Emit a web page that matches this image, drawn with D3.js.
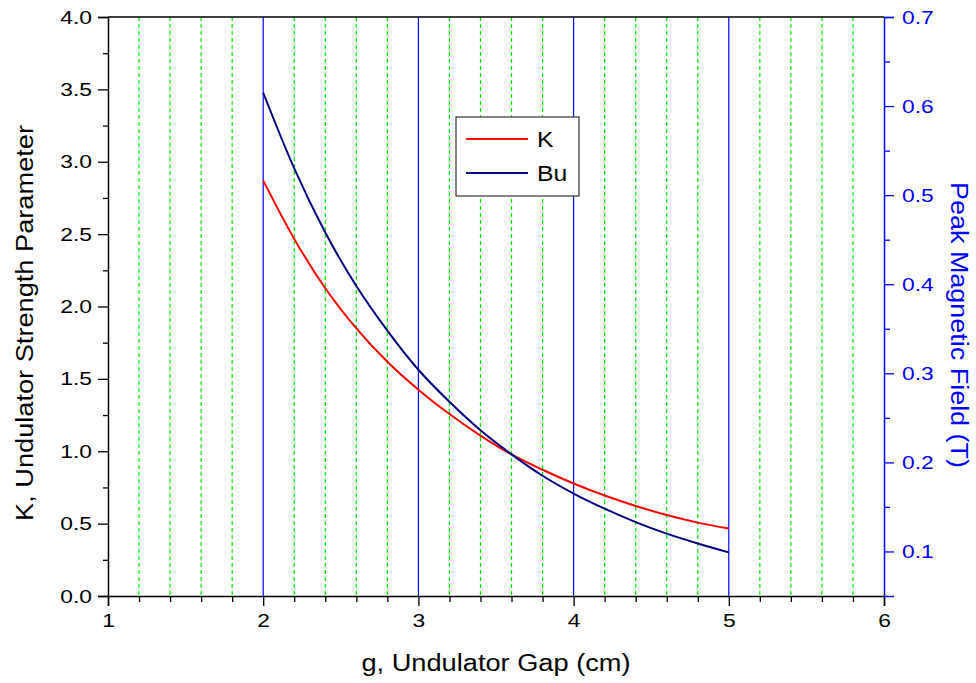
<!DOCTYPE html>
<html><head><meta charset="utf-8">
<script src="https://cdn.jsdelivr.net/npm/d3@7"></script>
<style>
body{margin:0;background:#fff}
text{font-family:"Liberation Sans",Arial,Helvetica,sans-serif}
</style>
</head><body>
<svg id="chart" width="976" height="683"></svg>
<script>
// ---- data ----
const gapCm   = [2.0, 2.2, 2.4, 2.6, 2.8, 3.0, 3.2, 3.4, 3.6, 3.8, 4.0, 4.2, 4.4, 4.6, 4.8, 5.0];
const kValues = [2.870, 2.467, 2.126, 1.849, 1.618, 1.425, 1.257, 1.108, 0.978, 0.872, 0.777, 0.694, 0.622, 0.559, 0.507, 0.466];
const buValues= [0.615, 0.530, 0.458, 0.398, 0.348, 0.304, 0.268, 0.236, 0.209, 0.185, 0.165, 0.148, 0.133, 0.120, 0.109, 0.099];
const xTickValues = [1, 2, 3, 4, 5, 6];
const kTickValues = [0, 0.5, 1.0, 1.5, 2.0, 2.5, 3.0, 3.5, 4.0];
const bTickValues = [0.1, 0.2, 0.3, 0.4, 0.5, 0.6, 0.7];
const seriesNames = ["K", "Bu"];
const xTitle = "g, Undulator Gap (cm)";
const kTitle = "K, Undulator Strength Parameter";
const bTitle = "Peak Magnetic Field (T)";

const svg = d3.select("#chart");
const L = 108, R = 884, T = 17, B = 596;

const x = d3.scaleLinear().domain([1, 6]).range([L, R]);
const yK = d3.scaleLinear().domain([0, 4]).range([B, T]);
const yB = d3.scaleLinear().domain([0.05, 0.7]).range([B, T]);

function stretch(sel, f) {
  sel.each(function () {
    const n = this.getComputedTextLength();
    d3.select(this).attr("textLength", n * f).attr("lengthAdjust", "spacingAndGlyphs");
  });
}

// ---- grid ----
const minorX = d3.range(1, 6.0001, 0.2).map(v => +v.toFixed(1)).filter(v => Math.abs(v - Math.round(v)) > 1e-6);
svg.append("g").selectAll("line").data(minorX).join("line")
  .attr("x1", d => x(d)).attr("x2", d => x(d)).attr("y1", T).attr("y2", B)
  .attr("stroke", "#00ee00").attr("stroke-width", 1.2).attr("stroke-dasharray", "4,3");
svg.append("g").selectAll("line").data([2, 3, 4, 5]).join("line")
  .attr("x1", d => x(d)).attr("x2", d => x(d)).attr("y1", T).attr("y2", B)
  .attr("stroke", "#0000ff").attr("stroke-width", 1.2);

// ---- axes ----
const tickFont = 19, tickStretch = 1.2;
const gx = svg.append("g").attr("transform", `translate(0,${B})`)
  .call(d3.axisBottom(x).tickValues(xTickValues).tickFormat(d3.format("d")).tickSize(10).tickPadding(8));
svg.append("g").attr("transform", `translate(0,${B})`)
  .call(d3.axisBottom(x).tickValues(minorX).tickFormat("").tickSize(6))
  .call(g => g.select(".domain").remove());
const gy = svg.append("g").attr("transform", `translate(${L},0)`)
  .call(d3.axisLeft(yK).tickValues(kTickValues).tickFormat(d3.format(".1f")).tickSize(10).tickPadding(6));
svg.append("g").attr("transform", `translate(${L},0)`)
  .call(d3.axisLeft(yK).tickValues(d3.range(0.25, 4, 0.5)).tickFormat("").tickSize(5))
  .call(g => g.select(".domain").remove());
const gr = svg.append("g").attr("class", "raxis").attr("transform", `translate(${R},0)`)
  .call(d3.axisRight(yB).tickValues(bTickValues).tickFormat(d3.format(".1f")).tickSize(10).tickPadding(8));
svg.append("g").attr("class", "raxis").attr("transform", `translate(${R},0)`)
  .call(d3.axisRight(yB).tickValues([0.15, 0.25, 0.35, 0.45, 0.55, 0.65]).tickFormat("").tickSize(6))
  .call(g => g.select(".domain").remove());
svg.append("line").attr("x1", L).attr("x2", R).attr("y1", T).attr("y2", T)
  .attr("stroke", "#000").attr("stroke-width", 1.5);

svg.selectAll(".domain").attr("stroke-width", 1.5);
svg.selectAll(".tick line").attr("stroke-width", 1.3);
svg.selectAll("g").attr("font-family", null);
[gx, gy].forEach(g => g.selectAll("text").attr("font-size", tickFont).attr("fill", "#000"));
gr.selectAll("text").attr("font-size", tickFont).attr("fill", "#0000ff");
svg.selectAll(".raxis").selectAll("line, path").attr("stroke", "#0000ff");
stretch(gx.selectAll("text"), tickStretch);
stretch(gy.selectAll("text"), tickStretch);
stretch(gr.selectAll("text"), tickStretch);

// ---- curves ----
const kLine = d3.line().x((d, i) => x(gapCm[i])).y(d => yK(d)).curve(d3.curveMonotoneX);
const bLine = d3.line().x((d, i) => x(gapCm[i])).y(d => yB(d)).curve(d3.curveMonotoneX);
svg.append("path").attr("d", kLine(kValues)).attr("fill", "none").attr("stroke", "#ff0000").attr("stroke-width", 2);
svg.append("path").attr("d", bLine(buValues)).attr("fill", "none").attr("stroke", "#000080").attr("stroke-width", 2);

// ---- titles ----
const titleFont = 23;
svg.append("text").attr("x", (L + R) / 2).attr("y", 671).attr("text-anchor", "middle")
  .attr("font-size", titleFont).attr("fill", "#000").text(xTitle).attr("textLength", 269).attr("lengthAdjust", "spacingAndGlyphs");
svg.append("text").attr("transform", `translate(33,323) rotate(-90)`).attr("text-anchor", "middle")
  .attr("font-size", titleFont).attr("fill", "#000").text(kTitle).attr("textLength", 396).attr("lengthAdjust", "spacingAndGlyphs");
svg.append("text").attr("transform", `translate(951,325) rotate(90)`).attr("text-anchor", "middle")
  .attr("font-size", titleFont).attr("fill", "#0000ff").text(bTitle).attr("textLength", 286).attr("lengthAdjust", "spacingAndGlyphs");

// ---- legend ----
const leg = svg.append("g");
leg.append("rect").attr("x", 456).attr("y", 117).attr("width", 123).attr("height", 79)
  .attr("fill", "#fff").attr("stroke", "#333").attr("stroke-width", 1.2);
const legColors = ["#ff0000", "#000080"];
const legY = d3.scalePoint().domain(seriesNames).range([139, 173]);
seriesNames.forEach((name, i) => {
  leg.append("line").attr("x1", 466).attr("x2", 528).attr("y1", legY(name)).attr("y2", legY(name))
    .attr("stroke", legColors[i]).attr("stroke-width", 2);
  const t = leg.append("text").attr("x", 537).attr("y", legY(name) + 8).attr("font-size", 21.5)
    .attr("fill", "#000").text(name);
  stretch(t, 1.15);
});
</script>
</body></html>
